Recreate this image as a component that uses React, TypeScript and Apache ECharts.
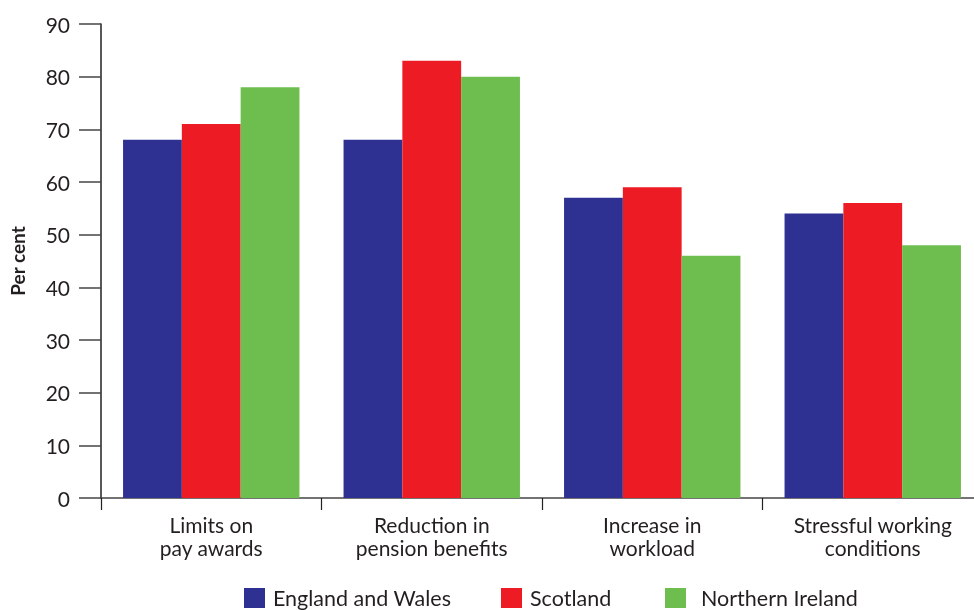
import React, { useEffect, useRef } from "react";
import * as echarts from "echarts";

const categories = ["Limits on\npay awards", "Reduction in\npension benefits", "Increase in\nworkload", "Stressful working\nconditions"];
const englandWales = [68, 68, 57, 54];
const scotland = [71, 83, 59, 56];
const northernIreland = [78, 80, 46, 48];
const seriesNames = ["England and Wales", "Scotland", "Northern Ireland"];
const colors = ["#2E3192", "#ED1C24", "#6DBE4F"];

const FONT = "Lato";

export default function App() {
  const ref = useRef<HTMLDivElement>(null);
  useEffect(() => {
    const chart = echarts.init(ref.current!, null, { renderer: "svg" });
    const data = [englandWales, scotland, northernIreland];
    const legendLefts = [244, 501, 665];
    const legendPads = [3, 3, 10];
    chart.setOption({
      animation: false,
      textStyle: { fontFamily: FONT },
      grid: { left: 101, top: 24, bottom: 112, right: -9, containLabel: false, outerBoundsMode: "none" },
      legend: seriesNames.map((n, i) => ({
        data: [n],
        left: legendLefts[i],
        top: 587,
        itemWidth: 21,
        itemHeight: 20,
        itemGap: 0,
        icon: "rect",
        padding: 0,
        selectedMode: false,
        textStyle: { fontFamily: FONT, fontSize: 21.5, lineHeight: 20, color: "#231F20", padding: [0, 0, 0, legendPads[i]] },
      })),
      xAxis: {
        type: "category",
        data: categories,
        axisLine: { lineStyle: { color: "#444", width: 1.5 } },
        axisTick: { show: true, length: 12, lineStyle: { color: "#231F20", width: 1.2 } },
        axisLabel: { fontFamily: FONT, fontSize: 21, color: "#231F20", margin: 15, lineHeight: 23, interval: 0 },
      },
      yAxis: {
        type: "value",
        min: 0,
        max: 90,
        interval: 10,
        name: "Per cent",
        nameLocation: "middle",
        nameRotate: 90,
        nameGap: 74,
        nameTextStyle: { fontFamily: FONT, fontSize: 19, fontWeight: "bold", color: "#231F20" },
        axisLine: { show: true, lineStyle: { color: "#231F20", width: 1.5 } },
        axisTick: { show: true, length: 22, lineStyle: { color: "#444", width: 1.5 } },
        axisLabel: { fontFamily: FONT, fontSize: 21, color: "#231F20", margin: 31 },
        splitLine: { show: false },
      },
      series: seriesNames.map((n, i) => ({
        name: n,
        type: "bar",
        data: data[i],
        barGap: "0%",
        barCategoryGap: "20%",
        itemStyle: { color: colors[i] },
      })),
    });
    return () => chart.dispose();
  }, []);
  return <div ref={ref} style={{ position: "fixed", left: 0, top: 0, width: 974, height: 610 }} />;
}
